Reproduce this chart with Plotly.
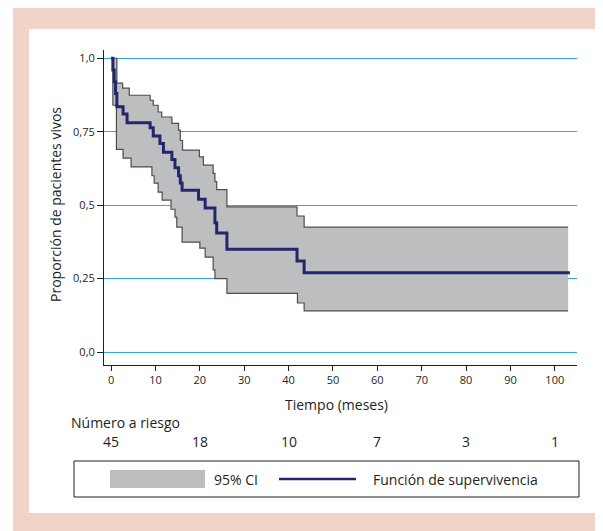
import plotly.graph_objects as go

# ---- data ----
surv_t = [0, 0.4, 0.7, 1.0, 1.3, 2.7, 3.6, 8.8, 9.5, 11.0, 11.8, 13.7, 14.4, 15.2, 15.6, 16.0,
          19.7, 21.2, 23.4, 23.8, 26.1, 41.9, 43.5, 103.4]
surv_v = [1.0, 0.96, 0.92, 0.88, 0.835, 0.81, 0.78, 0.763, 0.735, 0.71, 0.68, 0.655, 0.627, 0.60,
          0.575, 0.551, 0.52, 0.49, 0.44, 0.405, 0.35, 0.31, 0.27, 0.27]

upper_t = [0, 1.3, 2.6, 4.1, 8.8, 9.5, 10.6, 11.4, 13.7, 15.2, 15.6, 16.1, 19.9, 20.8, 23.0,
           23.4, 23.8, 26.1, 41.9, 43.5, 103]
upper_v = [1.0, 0.915, 0.898, 0.874, 0.857, 0.84, 0.817, 0.80, 0.778, 0.755, 0.72, 0.687, 0.664,
           0.636, 0.608, 0.58, 0.553, 0.494, 0.463, 0.425, 0.425]

lower_t = [0, 0.4, 1.2, 2.7, 4.5, 9.2, 9.7, 10.6, 11.5, 13.5, 14.4, 14.8, 16.0, 20.0, 21.2,
           23.0, 23.4, 26.1, 42.0, 43.5, 103]
lower_v = [1.0, 0.84, 0.69, 0.66, 0.63, 0.60, 0.575, 0.544, 0.517, 0.486, 0.459, 0.425, 0.374,
           0.354, 0.323, 0.28, 0.25, 0.20, 0.167, 0.14, 0.14]

y_tickvals = [0, 0.25, 0.5, 0.75, 1.0]
y_ticktext = ["0,0", "0,25", "0,5", "0,75", "1,0"]
x_tickvals = [0, 10, 20, 30, 40, 50, 60, 70, 80, 90, 100]

risk_times = [0, 20, 40, 60, 80, 100]
risk_counts = [45, 18, 10, 7, 3, 1]

# ---- layout geometry (pixels of the reference page) ----
OFF = 8                     # default page margin of the html body
PAGE_W, PAGE_H = 603, 531
W, H = PAGE_W - OFF, PAGE_H - OFF
L, R, T, B = 104, 577, 50, 365      # plot area in page pixels
PW, PH = R - L, B - T


def px(x):
    return (x - L) / PW


def py(y):
    return (B - y) / PH


FONT = "Open Sans"
TXT = "#231f20"
NAVY = "#23266b"
GRAY_FILL = "#bcbec0"
GRAY_LINE = "#4d4d4f"
GRID = "#29abe2"
FS = 14

fig = go.Figure()
fig.add_trace(go.Scatter(x=lower_t, y=lower_v, mode="lines", line_shape="hv",
                         line=dict(color=GRAY_LINE, width=1.2), showlegend=False,
                         hoverinfo="skip"))
fig.add_trace(go.Scatter(x=upper_t, y=upper_v, mode="lines", line_shape="hv",
                         line=dict(color=GRAY_LINE, width=1.2), fill="tonexty",
                         fillcolor=GRAY_FILL, showlegend=False, hoverinfo="skip"))
fig.add_trace(go.Scatter(x=surv_t, y=surv_v, mode="lines", line_shape="hv",
                         line=dict(color=NAVY, width=3), showlegend=False))

shapes = [
    # pink frame and white panel
    dict(type="rect", xref="paper", yref="paper", x0=px(13), x1=px(610), y0=py(540), y1=py(8),
         fillcolor="#f2d3c7", line=dict(width=0), layer="below"),
    dict(type="rect", xref="paper", yref="paper", x0=px(29), x1=px(597), y0=py(513), y1=py(29),
         fillcolor="white", line=dict(width=0), layer="below"),
    # legend box
    dict(type="rect", xref="paper", yref="paper", x0=px(74), x1=px(579), y0=py(497), y1=py(461),
         fillcolor="white", line=dict(color="#231f20", width=1)),
    dict(type="rect", xref="paper", yref="paper", x0=px(110), x1=px(205), y0=py(488), y1=py(470),
         fillcolor=GRAY_FILL, line=dict(width=0)),
    dict(type="line", xref="paper", yref="paper", x0=px(279), x1=px(356), y0=py(479), y1=py(479),
         line=dict(color=NAVY, width=2.5)),
]

annotations = [
    dict(text="Proporción de pacientes vivos", xref="paper", yref="paper", x=px(55), y=py(205),
         textangle=-90, showarrow=False, font=dict(size=FS, color=TXT, family=FONT),
         xanchor="center", yanchor="middle"),
    dict(text="Tiempo (meses)", xref="paper", yref="paper", x=px(336), y=py(404),
         showarrow=False, font=dict(size=FS, color=TXT, family=FONT),
         xanchor="center", yanchor="middle"),
    dict(text="Número a riesgo", xref="paper", yref="paper", x=px(69), y=py(422),
         showarrow=False, font=dict(size=FS, color=TXT, family=FONT),
         xanchor="left", yanchor="middle"),
    dict(text="95% CI", xref="paper", yref="paper", x=px(212), y=py(479),
         showarrow=False, font=dict(size=FS, color=TXT, family=FONT),
         xanchor="left", yanchor="middle"),
    dict(text="Función de supervivencia", xref="paper", yref="paper", x=px(371), y=py(479),
         showarrow=False, font=dict(size=FS, color=TXT, family=FONT),
         xanchor="left", yanchor="middle"),
]
for t, n in zip(risk_times, risk_counts):
    annotations.append(dict(text=str(n), xref="x", yref="paper", x=t, y=py(441),
                            showarrow=False, font=dict(size=FS, color=TXT, family=FONT),
                            xanchor="center", yanchor="middle"))

fig.update_layout(
    width=W, height=H,
    margin=dict(l=L - OFF, r=PAGE_W - R, t=T - OFF, b=PAGE_H - B, pad=0),
    paper_bgcolor="white",
    plot_bgcolor="rgba(0,0,0,0)",
    font=dict(family=FONT, color=TXT, size=11),
    shapes=shapes,
    annotations=annotations,
    xaxis=dict(range=[-1.6, 105], tickvals=x_tickvals, ticks="outside", ticklen=5,
               tickcolor=TXT, showline=True, linecolor=TXT, linewidth=1, showgrid=False,
               zeroline=False, tickfont=dict(size=11, color=TXT, family=FONT)),
    yaxis=dict(range=[-0.044, 1.028], tickvals=y_tickvals, ticktext=y_ticktext,
               ticks="outside", ticklen=6, tickcolor=TXT, showline=True, linecolor=TXT,
               linewidth=1, showgrid=True, gridcolor=GRID, gridwidth=1, zeroline=False,
               tickfont=dict(size=11, color=TXT, family=FONT)),
)

fig.write_html("out.html")
